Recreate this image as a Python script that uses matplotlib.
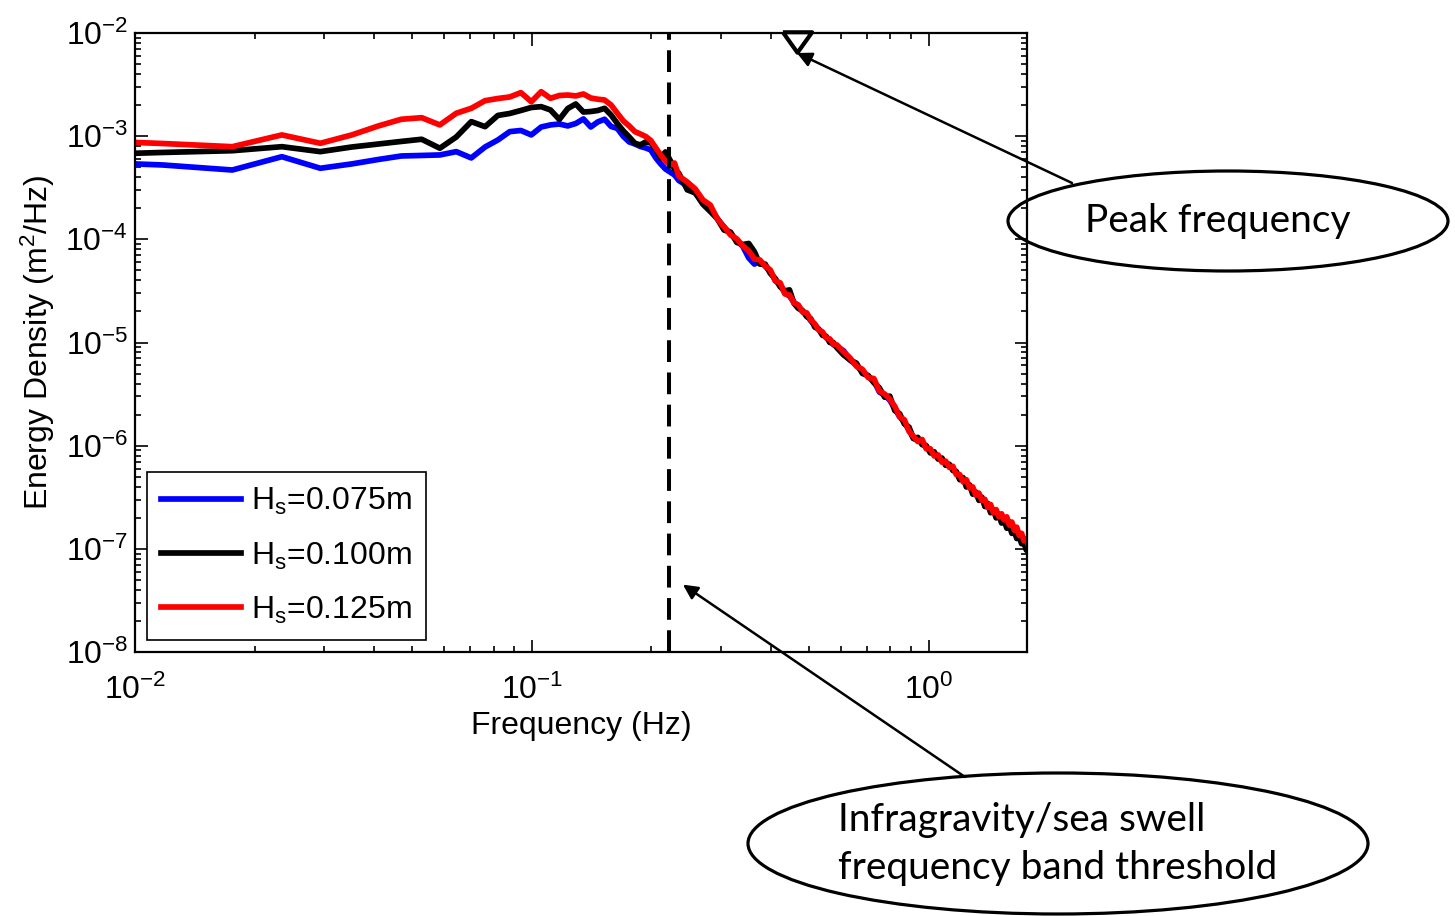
import numpy as np
import matplotlib
matplotlib.use("Agg")
import matplotlib.pyplot as plt
from matplotlib.patches import Ellipse

plt.rcParams['font.family'] = ['Liberation Sans', 'DejaVu Sans']
plt.rcParams['mathtext.fontset'] = 'custom'
plt.rcParams['mathtext.rm'] = 'Liberation Sans'
plt.rcParams['mathtext.it'] = 'Liberation Sans:italic'
plt.rcParams['mathtext.bf'] = 'Liberation Sans:bold'
plt.rcParams['mathtext.default'] = 'regular'

# ---------------------------------------------------------------- data
# spectral resolution of the wave-gauge records (Hz) and the FFT bins kept
df = 0.00586
bins = list(range(1, 40)) + list(range(40, 101, 2)) + list(range(104, 305, 4))
freq = np.array(bins) * df

# log10 of the energy density (m^2/Hz) for each significant wave height
log_E_075 = [
    -3.236, -3.279, -3.328, -3.199, -3.311, -3.269, -3.226, -3.192, -3.187, -3.182,
    -3.150, -3.211, -3.105, -3.037, -2.956, -2.945, -2.988, -2.911, -2.891, -2.882,
    -2.901, -2.877, -2.833, -2.911, -2.862, -2.836, -2.906, -2.925, -3.003, -3.056,
    -3.076, -3.100, -3.114, -3.134, -3.211, -3.269, -3.318, -3.347, -3.376,
    -3.43, -3.48, -3.55, -3.63, -3.69, -3.80, -3.88, -3.95, -4.01, -4.07,
    -4.18, -4.24, -4.21, -4.26, -4.31, -4.40, -4.44, -4.52, -4.55, -4.61,
    -4.65, -4.70, -4.73, -4.79, -4.83, -4.87, -4.91, -4.95, -4.98, -5.02, -5.04,
    -5.08, -5.17, -5.22, -5.28, -5.33, -5.37, -5.48, -5.51, -5.56, -5.64,
    -5.72, -5.77, -5.85, -5.93, -5.95, -5.97, -6.02, -6.05, -6.09, -6.11,
    -6.15, -6.17, -6.20, -6.22, -6.27,
    -6.30, -6.33, -6.37, -6.39, -6.44, -6.46, -6.50, -6.52, -6.56, -6.58,
    -6.62, -6.64, -6.67, -6.68, -6.70, -6.73, -6.75, -6.77, -6.79, -6.82,
    -6.84, -6.86, -6.88, -6.90, -6.92, -6.94,
]
log_E_100 = [
    -3.192, -3.158, -3.141, -3.102, -3.150, -3.105, -3.076, -3.051, -3.030, -3.117,
    -3.008, -2.859, -2.908, -2.799, -2.780, -2.751, -2.722, -2.714, -2.746, -2.838,
    -2.732, -2.688, -2.766, -2.761, -2.751, -2.730, -2.795, -2.877, -2.950, -3.008,
    -3.069, -3.085, -3.056, -3.066, -3.124, -3.211, -3.153, -3.231, -3.318,
    -3.36, -3.52, -3.55, -3.66, -3.73, -3.80, -3.91, -3.93, -4.03, -4.05,
    -4.04, -4.12, -4.24, -4.24, -4.33, -4.38, -4.46, -4.50, -4.49, -4.62,
    -4.67, -4.69, -4.75, -4.77, -4.85, -4.87, -4.93, -4.94, -5.00, -5.00, -5.05,
    -5.12, -5.17, -5.20, -5.30, -5.32, -5.39, -5.44, -5.53, -5.52, -5.66,
    -5.69, -5.79, -5.82, -5.93, -5.92, -5.99, -6.00, -6.07, -6.06, -6.13,
    -6.12, -6.19, -6.18, -6.24, -6.25,
    -6.33, -6.31, -6.40, -6.38, -6.47, -6.45, -6.53, -6.50, -6.59, -6.56,
    -6.65, -6.62, -6.70, -6.67, -6.75, -6.72, -6.80, -6.77, -6.85, -6.83,
    -6.90, -6.88, -6.95, -6.93, -7.01, -7.03,
]
log_E_125 = [
    -3.027, -3.071, -3.102, -2.988, -3.069, -2.988, -2.901, -2.836, -2.821, -2.891,
    -2.778, -2.730, -2.656, -2.635, -2.620, -2.578, -2.666, -2.569, -2.633, -2.606,
    -2.601, -2.610, -2.591, -2.630, -2.642, -2.649, -2.698, -2.778, -2.853, -2.901,
    -2.956, -2.979, -3.003, -3.042, -3.114, -3.182, -3.240, -3.279, -3.260,
    -3.386, -3.444, -3.512, -3.618, -3.667, -3.802, -3.880, -3.957, -3.996, -4.064,
    -4.112, -4.190, -4.200, -4.258, -4.297, -4.403, -4.422, -4.529, -4.539, -4.616,
    -4.636, -4.703, -4.713, -4.781, -4.820, -4.878, -4.897, -4.955, -4.965, -5.014, -5.023,
    -5.09, -5.15, -5.23, -5.26, -5.34, -5.35, -5.47, -5.50, -5.55, -5.62,
    -5.72, -5.75, -5.86, -5.91, -5.96, -5.94, -6.03, -6.03, -6.10, -6.09,
    -6.16, -6.15, -6.21, -6.20, -6.28,
    -6.28, -6.35, -6.33, -6.41, -6.40, -6.48, -6.46, -6.53, -6.52, -6.60,
    -6.57, -6.65, -6.62, -6.69, -6.66, -6.72, -6.69, -6.77, -6.74, -6.82,
    -6.79, -6.87, -6.85, -6.92, -6.91, -6.97,
]

series_labels = [r'H$_\mathregular{s}$=0.075m', r'H$_\mathregular{s}$=0.100m',
                 r'H$_\mathregular{s}$=0.125m']
series_colors = ['#0000ff', '#000000', '#ff0000']

peak_freq = 0.465          # Hz, marked by the open triangle
peak_marker_level = 8.1e-3
threshold_freq = 0.221     # Hz, infragravity / sea-swell split

# ---------------------------------------------------------------- figure
W, H = 1455, 916
fig = plt.figure(figsize=(W / 100, H / 100), dpi=100)
ax = fig.add_axes([135 / W, 1 - 652 / H, (1027 - 135) / W, (652 - 33) / H])

handles = []
for logE, lab, col in zip([log_E_075, log_E_100, log_E_125], series_labels, series_colors):
    (ln,) = ax.plot(freq, 10.0 ** np.array(logE), color=col, lw=4.1, label=lab,
                    solid_joinstyle='round')
    handles.append(ln)

ax.axvline(threshold_freq, color='black', lw=2.9, dashes=(5.4, 2.6))

tri = [(-1.0, 0.7), (1.0, 0.7), (0.0, -0.7), (-1.0, 0.7)]
ax.plot([peak_freq], [peak_marker_level], linestyle='none', marker=tri, ms=21,
        mfc='white', mec='black', mew=3.0, clip_on=False, zorder=5)

ax.set_xscale('log')
ax.set_yscale('log')
ax.set_xlim(0.01, 1.766)
ax.set_ylim(1e-8, 1e-2)

ax.set_xlabel('Frequency (Hz)', fontsize=23, labelpad=4)
ax.set_ylabel('Energy Density (m$^2$/Hz)', fontsize=23, labelpad=6)

for sp in ax.spines.values():
    sp.set_linewidth(1.6)
ax.tick_params(which='both', direction='in', top=True, right=True, width=1.2)
ax.tick_params(which='major', length=9, labelsize=23)
ax.tick_params(which='minor', length=4.5)
ax.tick_params(axis='x', which='major', pad=16)
ax.tick_params(axis='y', which='major', pad=5)

leg = ax.legend(handles, series_labels, loc='lower left',
                bbox_to_anchor=(147 / W, 1 - 640 / H), bbox_transform=fig.transFigure,
                borderaxespad=0, frameon=True, fancybox=False, edgecolor='black',
                framealpha=1, handlelength=2.5, handletextpad=0.3,
                labelspacing=0.72, borderpad=0.45, fontsize=23)
leg.get_frame().set_linewidth(1.2)

# ---------------------------------------------------------------- callouts
callout_font = 'Lato'
fig.add_artist(Ellipse((1228 / W, 1 - 221 / H), 440 / W, 100 / H,
                       transform=fig.transFigure, fill=False, lw=2.3, ec='black'))
fig.text(1218 / W, 1 - 232 / H, 'Peak frequency', ha='center', va='baseline',
         fontfamily=callout_font, fontsize=28)

fig.add_artist(Ellipse((1058 / W, 1 - 843.5 / H), 620 / W, 141 / H,
                       transform=fig.transFigure, fill=False, lw=2.3, ec='black'))
fig.text(838 / W, 1 - 831 / H, 'Infragravity/sea swell', ha='left', va='baseline',
         fontfamily=callout_font, fontsize=28)
fig.text(838 / W, 1 - 879 / H, 'frequency band threshold', ha='left', va='baseline',
         fontfamily=callout_font, fontsize=28)

arrow = dict(arrowstyle='-|>', color='black', lw=1.8, mutation_scale=22,
             shrinkA=0, shrinkB=0)
ax.annotate('', xy=(peak_freq, 6.4e-3), xycoords='data',
            xytext=(1072, H - 183), textcoords='figure pixels',
            arrowprops=arrow, annotation_clip=False)
ax.annotate('', xy=(0.240, 4.5e-8), xycoords='data',
            xytext=(965, H - 777), textcoords='figure pixels',
            arrowprops=arrow, annotation_clip=False)

fig.savefig('out.png', dpi=100)
